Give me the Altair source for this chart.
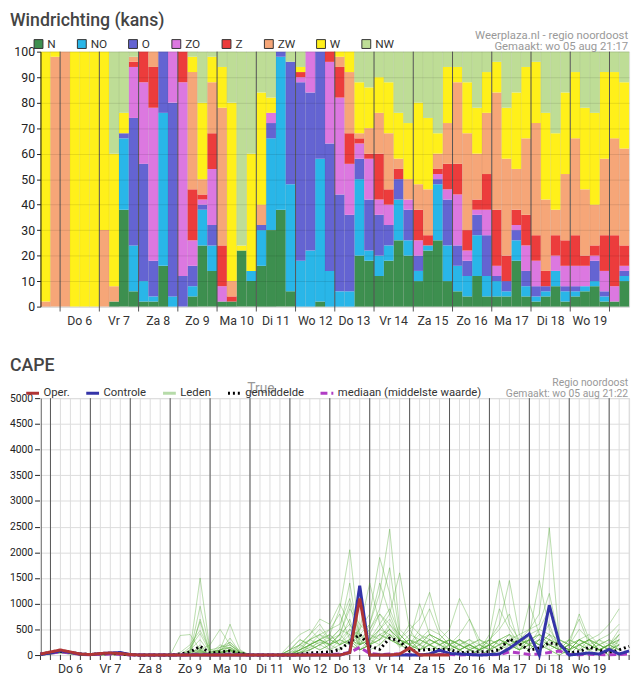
import altair as alt
import pandas as pd

# ---------------- Windrichting (kans) ----------------
richtingen = ["N", "NO", "O", "ZO", "Z", "ZW", "W", "NW"]
kleuren = ["#3d8f4f", "#29b6e8", "#6464d2", "#dc78e0", "#ec3c3c", "#f6a678", "#fff01a", "#bedd96"]

N = [0,0,0,0,0,0,0,2,38,6, 2,2,16,0,0,4,24,14,2,2, 22,10,16,30,38,6,0,0,2,0,
     0,0,20,18,12,18,26,20,10,22, 26,10,6,4,12,4,4,4,18,4, 2,4,8,2,4,6,8,2,2,10]
NO = [0,0,0,0,0,0,0,0,28,18, 8,2,60,4,0,4,14,10,0,0, 0,4,14,36,60,42,18,22,56,14,
      6,6,30,4,8,6,16,6,4,2, 22,14,10,8,16,8,6,2,8,4, 2,2,6,4,2,2,2,2,0,2]
O = [0,0,0,0,0,0,0,0,2,50, 46,14,24,76,12,8,2,8,0,0, 0,0,2,6,2,48,70,62,42,50,
     38,30,8,20,16,8,8,12,6,0, 2,18,8,6,8,16,2,4,4,6, 4,2,0,2,2,0,8,2,0,2]
ZO = [0,0,0,0,0,0,0,0,0,20, 32,60,0,20,76,10,2,22,6,0, 0,0,0,4,0,0,2,16,0,32,
      38,20,6,16,6,8,0,4,6,0, 2,4,20,4,2,10,4,0,2,10, 10,0,6,8,8,8,2,8,6,2]
Z = [0,0,0,0,0,0,0,0,0,2, 12,16,0,0,12,20,2,14,16,2, 0,0,0,0,0,0,2,0,0,4,
     12,12,2,2,18,6,4,0,12,4, 2,10,12,8,4,14,22,10,6,12, 10,6,8,10,12,4,4,14,20,8]
ZW = [2,98,100,0,0,0,30,6,0,2, 0,6,0,0,0,46,6,20,54,6, 0,0,8,0,0,0,0,0,0,0,
      4,24,2,10,16,22,4,8,10,18, 6,16,32,38,18,24,46,38,16,30, 44,28,10,26,38,26,16,30,38,38]
W = [98,2,0,100,100,100,70,52,8,0, 0,0,0,0,0,6,30,10,16,70, 2,46,44,6,0,0,2,0,0,0,
     2,8,20,16,14,20,18,22,32,28, 8,22,6,20,18,16,12,20,30,28, 24,34,30,32,26,32,36,34,26,26]
NW = [0,0,0,0,0,0,0,40,24,2, 0,0,0,0,0,2,20,2,6,20, 76,40,16,18,0,4,6,0,0,0,
      0,0,12,14,10,12,24,28,20,26, 32,6,6,12,22,8,4,22,16,6, 4,24,32,16,8,22,24,8,8,12]
wind_reeksen = [N, NO, O, ZO, Z, ZW, W, NW]

dagen = ["Do 6", "Vr 7", "Za 8", "Zo 9", "Ma 10", "Di 11", "Wo 12",
         "Do 13", "Vr 14", "Za 15", "Zo 16", "Ma 17", "Di 18", "Wo 19"]

# time axis in hours after do 6 aug 00:00, 6-hourly steps
wind_start = -12
cape_start = -6
stap = 6

# ---------------- CAPE ----------------
oper = [20,60,100,60,20,10,30,40,30,10, 0,0,0,0,0,0,0,0,0,0,
        0,0,0,0,0,0,0,0,0,0, 0,50,1100,0,0,0,20,140,0,0, 0,0]
controle = [10,40,80,50,20,10,30,40,50,10, 0,0,0,0,0,0,0,0,0,0,
            0,0,0,0,0,0,0,0,0,0, 0,50,1350,0,0,0,0,0,0,20,
            95,30,20,10,0,10,20,130,270,410, 0,970,230,0,20,40,20,110,20,80]
gemiddelde = [20,50,70,50,20,10,20,30,20,5, 0,0,0,0,20,60,170,40,60,80,
              30,5,0,0,0,0,20,40,50,60, 110,250,400,170,110,330,270,75,95,110,
              110,110,45,60,64,64,100,313,220,90, 140,236,205,45,64,153,96,45,100,170]
mediaan = [20,40,60,40,15,5,15,20,15,0, 0,0,0,0,0,10,20,5,10,15,
           5,0,0,0,0,0,0,5,10,10, 20,50,150,30,10,20,20,5,5,10,
           10,10,0,5,5,5,10,60,40,10, 20,50,80,10,5,15,10,5,10,20]

m01 = [0,40,80,50,10,0,20,30,20,0,0,0,0, 0,0,100,1500,80,0,120,0,0,0,0,0,
       0,150,300, 200,400,900,2050, 300,100,200,400, 150,300,200,100, 0,200,300,150, 100,300,500,800, 200,100,300,600, 100,0,200,100, 300,200,100]
m02 = [10,60,100,60,20,10,30,40,30,10,0,0,0, 0,0,50,950,100,80,250,50,0,0,0,0,
       50,200,400, 600,300,500,1400, 200,300,600,900, 400,200,100,300, 200,100,0,100, 50,200,300,400, 100,300,200,100, 0,100,300,200, 100,0,200]
m03 = [0,30,60,40,0,0,10,20,10,0,0,0,0, 0,0,0,700,50,100,150,0,0,0,0,0,
       0,100,200, 300,500,600,1100, 400,200,300,500, 300,600,400,200, 100,300,200,100, 0,100,200,300, 400,500,600,1200, 300,200,100,0, 100,200,300]
m04 = [20,50,90,70,30,0,20,40,30,10,0,0,0, 0,0,80,650,0,150,200,60,0,0,0,0,
       100,300,200, 100,200,400,1000, 200,500,800,600, 300,100,200,400, 300,200,100,0, 100,200,100,300, 200,400,500,900, 200,100,300,400, 200,100,300]
m05 = [0,20,50,30,0,0,0,10,10,0,0,0,0, 0,50,200,480,100,150,250,80,0,0,0,0,
       0,50,100, 300,200,400,900, 600,400,800,500, 200,100,300,500, 400,200,100,200, 300,100,0,200, 300,200,400,300, 100,200,500,300, 100,200,400]
m06 = [10,40,70,40,10,0,10,20,20,0,0,0,0, 0,0,150,420,50,100,150,40,0,0,0,0,
       200,400,500, 300,100,300,700, 100,200,500,700, 300,200,400,300, 200,100,200,300, 100,0,100,200, 100,300,200,400, 200,100,0,100, 200,300,200]
m07 = [0,30,60,40,10,0,0,20,10,0,0,0,0, 0,380,400,100,0,0,0,0,0,0,0,0,
       0,100,300, 500,300,200,500, 200,400,300,600, 400,200,500,900, 400,200,100,200, 100,200,300,200, 100,200,300,200, 100,300,200,100, 0,100,200]
m08 = [0,50,90,60,20,0,20,30,20,0,0,0,0, 0,0,100,300,30,50,100,0,0,0,0,0,
       0,50,200, 400,300,500,400, 100,200,400,300, 200,300,100,200, 300,200,400,700, 200,100,200,300, 100,200,100,300, 200,100,300,200, 100,200,100]
m09 = [0,20,40,20,0,0,10,10,0,0,0,0,0, 0,0,0,200,0,50,100,0,0,0,0,0,
       0,0,100, 200,100,200,300, 100,300,200,400, 200,100,300,200, 100,200,300,200, 100,400,1450,600, 300,200,100,200, 100,0,200,300, 100,200,400]
m10 = [10,30,70,50,10,0,20,30,20,0,0,0,0, 0,0,50,100,200,500,200,50,0,0,0,0,
       100,200,300, 400,500,800,300, 100,200,300,500, 300,200,100,300, 200,100,300,200, 100,300,600,1450, 400,200,100,300, 200,100,200,300, 100,0,300]
m11 = [0,40,60,40,0,0,10,20,20,0,0,0,0, 0,0,0,80,0,100,600,100,0,0,0,0,
       0,200,400, 700,600,1000,600, 200,300,500,400, 200,300,100,200, 300,200,100,0, 100,200,900,500, 200,300,400,200, 100,200,300,100, 200,100,0]
m12 = [20,50,80,60,20,10,30,40,30,10,0,0,0, 0,0,0,150,0,80,330,50,0,0,0,0,
       50,100,200, 300,200,300,500, 400,600,1200,2450, 500,300,200,100, 200,300,200,100, 0,100,200,300, 200,100,300,200, 100,200,300,200, 100,200,500]
m13 = [0,30,50,30,0,0,10,20,10,0,0,0,0, 0,0,0,50,20,200,120,30,0,0,0,0,
       0,100,200, 300,400,200,300, 500,800,1900,1200, 300,200,100,200, 300,100,200,300, 200,100,300,200, 300,200,500,400, 100,200,100,300, 200,300,100]
m14 = [10,40,80,50,10,0,20,30,20,0,0,0,0, 0,0,50,120,0,100,200,50,0,0,0,0,
       100,300,200, 100,200,400,600, 300,500,900,1700, 400,200,300,200, 100,200,300,100, 200,300,200,400, 300,500,800,2480, 300,200,100,200, 300,100,200]
m15 = [0,20,50,40,10,0,10,20,10,0,0,0,0, 0,0,0,60,0,50,100,30,0,0,0,0,
       0,50,100, 200,300,200,400, 200,600,1400,800, 300,100,200,400, 200,300,100,200, 100,200,300,200, 100,400,1450,500, 200,100,300,200, 100,200,100]
m16 = [0,30,60,40,0,0,0,10,10,0,0,0,0, 0,0,0,40,0,30,80,0,0,0,0,0,
       0,100,300, 400,200,300,200, 500,1400,600,300, 200,400,300,200, 100,0,100,200, 300,200,100,300, 200,1000,400,300, 200,100,200,300, 200,100,400]
m17 = [10,30,60,30,0,0,10,20,10,0,0,0,0, 0,0,0,90,0,60,150,40,0,0,0,0,
       0,0,200, 300,400,200,300, 200,300,500,800, 1600,500,200,300, 200,300,200,100, 200,300,200,100, 200,300,200,400, 300,200,800,300, 200,100,200]
m18 = [0,50,70,50,10,0,10,30,20,0,0,0,0, 0,0,0,100,0,50,100,20,0,0,0,0,
       100,200,100, 200,300,400,200, 100,200,300,400, 300,500,700,1220, 500,300,200,100, 200,100,300,400, 200,300,400,200, 100,300,700,200, 100,200,300]
m19 = [0,20,40,20,0,0,0,10,0,0,0,0,0, 0,0,0,30,0,20,60,0,0,0,0,0,
       0,50,150, 250,200,300,200, 100,200,400,300, 200,300,1000,400, 300,200,100,200, 100,200,300,200, 100,200,300,100, 0,100,200,300, 400,600,900]
m20 = [10,40,70,40,10,0,20,20,10,0,0,0,0, 0,0,0,70,0,40,80,0,0,0,0,0,
       0,100,200, 300,200,100,300, 200,300,400,500, 300,200,300,400, 300,500,1100,700, 300,200,100,300, 200,300,200,100, 200,300,200,100, 300,400,600]
leden = [m01, m02, m03, m04, m05, m06, m07, m08, m09, m10,
         m11, m12, m13, m14, m15, m16, m17, m18, m19, m20]

series_namen = ["Oper.", "Controle", "Leden", "gemiddelde", "mediaan (middelste waarde)"]
series_kleuren = ["#b03535", "#3434a8", "rgba(80,170,50,0.42)", "#000000", "#b03cc4"]
series_dash = [[1, 0], [1, 0], [1, 0], [2, 3], [7, 4]]
series_breedte = [3, 3, 1, 2.5, 2.5]

# ---------------- tables ----------------
wind_rows = []
for k, (r, vals) in enumerate(zip(richtingen, wind_reeksen)):
    for i, v in enumerate(vals):
        wind_rows.append({"richting": r, "volgorde": k,
                          "t0": wind_start + stap * i, "t1": wind_start + stap * (i + 1),
                          "kans": v})
wind_df = pd.DataFrame(wind_rows)

dag_df = pd.DataFrame({"dag": dagen, "t": [12 + 24 * k for k in range(len(dagen))]})
grens_df = pd.DataFrame({"t": [24 * k for k in range(len(dagen) + 1)]})
wind_uren = pd.DataFrame({"t": [wind_start + stap * i for i in range(1, 60)]})
cape_uren = pd.DataFrame({"t": [cape_start + stap * i for i in range(0, 60)]})

leden_rows = []
for j, m in enumerate(leden):
    for i, v in enumerate(m):
        leden_rows.append({"t": cape_start + stap * i, "cape": v, "serie": "Leden", "lid": j})
leden_df = pd.DataFrame(leden_rows)

hoofd_rows = []
for naam, vals in [("gemiddelde", gemiddelde), ("mediaan (middelste waarde)", mediaan),
                   ("Controle", controle), ("Oper.", oper)]:
    for i, v in enumerate(vals):
        hoofd_rows.append({"t": cape_start + stap * i, "cape": v, "serie": naam})
hoofd_df = pd.DataFrame(hoofd_rows)

# ---------------- layout ----------------
PW = 598
H1 = 259
H2 = 261
FONT = "Roboto"


def tekst(s, x, y, **kw):
    return alt.Chart(pd.DataFrame({"s": [s]})).mark_text(font=FONT, **kw).encode(
        x=alt.value(x), y=alt.value(y), text="s:N")


# ---- top chart ----
xs1 = alt.Scale(domain=[wind_start, 348], nice=False, zero=False)

bars = alt.Chart(wind_df).transform_stack(
    stack="kans", groupby=["t0"], as_=["y0", "y1"],
    sort=[alt.SortField("volgorde", order="ascending")]
).mark_rect(strokeWidth=0).encode(
    x=alt.X("t0:Q", scale=xs1, axis=None),
    x2="t1:Q",
    y=alt.Y("y0:Q", scale=alt.Scale(domain=[0, 100], nice=False),
            axis=alt.Axis(values=list(range(0, 101, 10)), title=None, grid=True,
                          gridColor="rgba(0,0,0,0.10)", zindex=1, labelFontSize=12.5,
                          labelColor="#222", tickColor="#222", tickSize=4,
                          domainColor="#111", labelPadding=2, labelFont=FONT)),
    y2="y1:Q",
    color=alt.Color("richting:N", scale=alt.Scale(domain=richtingen, range=kleuren),
                    legend=alt.Legend(orient="none", legendX=-8, legendY=-14,
                                      direction="horizontal", title=None,
                                      symbolType="square", symbolSize=81,
                                      symbolStrokeColor="#333", symbolStrokeWidth=1,
                                      labelFontSize=12, labelColor="#333",
                                      labelFont=FONT, columnPadding=19, labelOffset=3)),
)

fijn1 = alt.Chart(wind_uren).mark_rule(color="rgba(0,0,0,0.07)", strokeWidth=1).encode(
    x=alt.X("t:Q", scale=xs1, axis=None), y=alt.value(0), y2=alt.value(H1))
dag1 = alt.Chart(grens_df).mark_rule(color="#555", strokeWidth=1).encode(
    x=alt.X("t:Q", scale=xs1, axis=None), y=alt.value(0), y2=alt.value(H1 + 5))
lab1 = alt.Chart(dag_df).mark_text(fontSize=12.5, color="#333", baseline="middle", font=FONT).encode(
    x=alt.X("t:Q", scale=xs1, axis=None), y=alt.value(H1 + 15), text="dag:N")

titel1 = tekst("Windrichting (kans)", -31, -40, align="left", baseline="top",
               fontSize=18, fontWeight=500, color="#444")
bron1a = tekst("Weerplaza.nl - regio noordoost", PW - 1, -16, align="right",
               baseline="middle", fontSize=11.5, color="#999")
bron1b = tekst("Gemaakt: wo 05 aug 21:17", PW - 1, -5, align="right",
               baseline="middle", fontSize=11.5, color="#999")

top = alt.layer(bars, fijn1, dag1, lab1, titel1, bron1a, bron1b).properties(width=PW, height=H1)

# ---- CAPE chart ----
xs2 = alt.Scale(domain=[cape_start, 348], nice=False, zero=False)
ys2 = alt.Scale(domain=[0, 5000], nice=False)
y_as = alt.Axis(values=list(range(0, 5001, 500)), title=None, grid=True, gridColor="#dcdcdc",
                labelFontSize=10.5, labelColor="#222", tickColor="#222", tickSize=6,
                domainColor="#111", labelPadding=2, labelFont=FONT, format="d")

leg2 = alt.Legend(orient="none", legendX=-16, legendY=-13,
                  direction="horizontal", title=None,
                  symbolType="stroke", symbolSize=169,
                  labelFontSize=11.5, labelColor="#333", labelFont=FONT,
                  columnPadding=10, labelOffset=3)
kleur = alt.Color("serie:N", scale=alt.Scale(domain=series_namen, range=series_kleuren), legend=leg2)
dash = alt.StrokeDash("serie:N", scale=alt.Scale(domain=series_namen, range=series_dash), legend=leg2)
breedte = alt.StrokeWidth("serie:N", scale=alt.Scale(domain=series_namen, range=series_breedte), legend=leg2)

fijn2 = alt.Chart(cape_uren).mark_rule(color="#dcdcdc", strokeWidth=1).encode(
    x=alt.X("t:Q", scale=xs2, axis=None), y=alt.value(0), y2=alt.value(H2))
tick2 = alt.Chart(cape_uren).mark_rule(color="#333", strokeWidth=1).encode(
    x=alt.X("t:Q", scale=xs2, axis=None), y=alt.value(H2), y2=alt.value(H2 + 5))
dag2 = alt.Chart(grens_df).mark_rule(color="#555", strokeWidth=1).encode(
    x=alt.X("t:Q", scale=xs2, axis=None), y=alt.value(0), y2=alt.value(H2 + 5))

leden_lijnen = alt.Chart(leden_df).mark_line(strokeWidth=1).encode(
    x=alt.X("t:Q", scale=xs2, axis=None),
    y=alt.Y("cape:Q", scale=ys2, axis=y_as),
    color=kleur, strokeDash=dash, detail="lid:N")
hoofd_lijnen = alt.Chart(hoofd_df).mark_line().encode(
    x=alt.X("t:Q", scale=xs2, axis=None),
    y=alt.Y("cape:Q", scale=ys2, axis=y_as),
    color=kleur, strokeDash=dash, strokeWidth=breedte)

lab2 = alt.Chart(dag_df).mark_text(fontSize=12.5, color="#333", baseline="middle", font=FONT).encode(
    x=alt.X("t:Q", scale=xs2, axis=None), y=alt.value(H2 + 14), text="dag:N")
titel2 = tekst("CAPE", -31, -42, align="left", baseline="top",
               fontSize=18, fontWeight=500, color="#444")
bron2a = tekst("Regio noordoost", PW - 1, -15, align="right", baseline="middle",
               fontSize=10.5, color="#999")
bron2b = tekst("Gemaakt: wo 05 aug 21:22", PW - 1, -4, align="right", baseline="middle",
               fontSize=10.5, color="#999")
true_txt = tekst("True", 224, -9, align="center", baseline="middle", fontSize=14, color="#999")

cape = alt.layer(fijn2, tick2, dag2, leden_lijnen, hoofd_lijnen, lab2, titel2,
                 bron2a, bron2b, true_txt).properties(width=PW, height=H2)

chart = alt.vconcat(top, cape, spacing=93, bounds="flush").resolve_scale(
    x="independent", y="independent", color="independent",
    strokeDash="independent", strokeWidth="independent"
).properties(
    padding={"left": 0, "top": -2, "right": 0, "bottom": 0}
).configure_view(stroke="#111", strokeWidth=1).configure(font=FONT)

chart.save("out.html", embed_options={"renderer": "svg", "actions": False})
